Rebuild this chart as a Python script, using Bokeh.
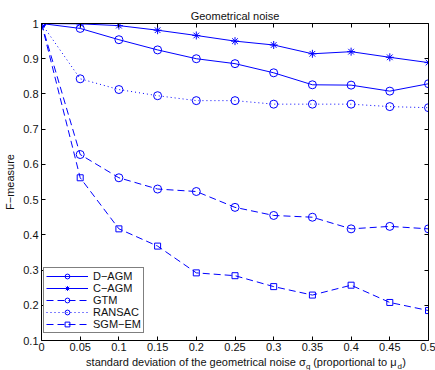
from bokeh.plotting import figure
from bokeh.models import Range1d, FixedTicker, LinearAxis, Legend, LegendItem
from bokeh.layouts import column
from bokeh.core.properties import value
from bokeh.embed import file_html
from bokeh.resources import INLINE

# ---------------- data ----------------
noise = [0, 0.05, 0.1, 0.15, 0.2, 0.25, 0.3, 0.35, 0.4, 0.45, 0.5]
x_tick_labels = ["0", "0.05", "0.1", "0.15", "0.2", "0.25", "0.3", "0.35", "0.4", "0.45", "0.5"]
y_ticks = [0.1, 0.2, 0.3, 0.4, 0.5, 0.6, 0.7, 0.8, 0.9, 1]
y_tick_labels = ["0.1", "0.2", "0.3", "0.4", "0.5", "0.6", "0.7", "0.8", "0.9", "1"]

d_agm = [1.0, 0.986, 0.954, 0.925, 0.900, 0.886, 0.860, 0.826, 0.825, 0.808, 0.829]
c_agm = [1.0, 0.999, 0.994, 0.981, 0.966, 0.950, 0.939, 0.914, 0.920, 0.904, 0.889]
gtm = [1.0, 0.628, 0.562, 0.530, 0.523, 0.478, 0.455, 0.450, 0.417, 0.424, 0.417]
ransac = [1.0, 0.843, 0.8125, 0.795, 0.781, 0.781, 0.771, 0.771, 0.771, 0.764, 0.761]
sgm_em = [1.0, 0.562, 0.417, 0.368, 0.292, 0.284, 0.253, 0.229, 0.257, 0.208, 0.185]

series_names = ["D\u2212AGM", "C\u2212AGM", "GTM", "RANSAC", "SGM\u2212EM"]
series_values = [d_agm, c_agm, gtm, ransac, sgm_em]

title_text = "Geometrical noise"
y_label_text = "F\u2212measure"
x_label_main = "standard deviation of the geometrical noise \u03c3"
x_label_sub1 = "g"
x_label_mid = "(proportional to \u03bc"
x_label_sub2 = "d"
x_label_end = ")"

# ---------------- style ----------------
BLUE = "#0000ff"
FONT = "Liberation Sans"
TXT = "#111111"
styles = [
    dict(dash="solid", marker="circle", size=8),
    dict(dash="solid", marker="asterisk", size=8),
    dict(dash="7 4", marker="circle", size=8),
    dict(dash="1 3", marker="circle", size=8),
    dict(dash="7 4", marker="square", size=6),
]

p = figure(width=435, height=355,
           x_range=Range1d(0, 0.5), y_range=Range1d(0.1, 1),
           output_backend="svg", toolbar_location=None,
           min_border_left=41, min_border_right=7,
           min_border_top=23, min_border_bottom=15)
p.grid.visible = False
p.outline_line_color = None
p.background_fill_color = "white"
p.border_fill_color = "white"

p.title.text = title_text
p.title.align = "center"
p.title.text_font = FONT
p.title.text_font_size = "11px"
p.title.text_font_style = "normal"
p.title.text_color = TXT
p.title.standoff = 3


def style_axis(ax, show_labels):
    ax.axis_line_color = "black"
    ax.axis_line_width = 1
    ax.major_tick_line_color = "black"
    ax.major_tick_in = 4
    ax.major_tick_out = 0
    ax.minor_tick_line_color = None
    ax.major_label_text_font = FONT
    if show_labels:
        ax.major_label_text_font_size = "11px"
        ax.major_label_text_color = TXT
        ax.major_label_standoff = 3
    else:
        ax.major_label_text_font_size = "1px"
        ax.major_label_text_color = None
        ax.major_label_standoff = 0


p.xaxis.ticker = FixedTicker(ticks=noise)
p.yaxis.ticker = FixedTicker(ticks=y_ticks)
p.xaxis.major_label_overrides = {v: s for v, s in zip(noise, x_tick_labels)}
p.yaxis.major_label_overrides = {v: s for v, s in zip(y_ticks, y_tick_labels)}
for ax in p.xaxis + p.yaxis:
    style_axis(ax, True)
p.xaxis.major_label_standoff = 2

p.yaxis.axis_label = y_label_text
p.yaxis.axis_label_text_font = FONT
p.yaxis.axis_label_text_font_size = "11px"
p.yaxis.axis_label_text_font_style = "normal"
p.yaxis.axis_label_text_color = TXT
p.yaxis.axis_label_standoff = 4

top_ax = LinearAxis(ticker=FixedTicker(ticks=noise))
right_ax = LinearAxis(ticker=FixedTicker(ticks=y_ticks))
style_axis(top_ax, False)
style_axis(right_ax, False)
p.add_layout(top_ax, "above")
p.add_layout(right_ax, "right")

items = []
for name, vals, st in zip(series_names, series_values, styles):
    lr = p.line(noise, vals, line_color=BLUE, line_width=1, line_dash=st["dash"])
    sr = p.scatter(noise, vals, marker=st["marker"], size=st["size"],
                   line_color=BLUE, fill_color=None, line_width=1)
    items.append(LegendItem(label=name, renderers=[lr, sr]))

legend = Legend(items=items, location=(2, 7), margin=0,
                padding=2, spacing=0, glyph_width=42, glyph_height=12,
                label_height=12, label_standoff=5,
                label_text_font=FONT, label_text_font_size="11px",
                label_text_color=TXT,
                border_line_color="black", border_line_width=1,
                background_fill_color="white", background_fill_alpha=1)
p.add_layout(legend, "center")

# ---------------- x-axis label strip (with subscripts) ----------------
q = figure(width=435, height=15, x_range=p.x_range, y_range=Range1d(0, 1),
           output_backend="svg", toolbar_location=None,
           x_axis_type=None, y_axis_type=None,
           min_border_left=41, min_border_right=7,
           min_border_top=0, min_border_bottom=0)
q.grid.visible = False
q.outline_line_color = None
q.background_fill_color = "white"
q.border_fill_color = "white"

y_main = 0.6
y_sub = 0.3
common = dict(text_baseline="middle", text_font=value(FONT), text_color=TXT)
q.text(x=[0.3413], y=[y_main], text=[x_label_main], text_align="right",
       text_font_size="11px", **common)
q.text(x=[0.3416], y=[y_sub], text=[x_label_sub1], text_align="left",
       text_font_size="8px", **common)
q.text(x=[0.3510], y=[y_main], text=[x_label_mid], text_align="left",
       text_font_size="11px", **common)
q.text(x=[0.4601], y=[y_sub], text=[x_label_sub2], text_align="left",
       text_font_size="8px", **common)
q.text(x=[0.4662], y=[y_main], text=[x_label_end], text_align="left",
       text_font_size="11px", **common)

layout = column(p, q, spacing=0)
open("out.html", "w").write(file_html(layout, INLINE))
